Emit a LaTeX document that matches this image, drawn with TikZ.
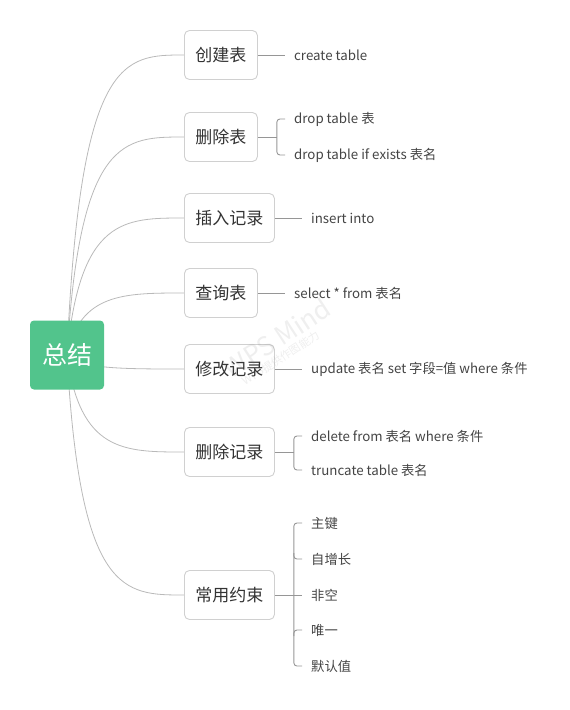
\documentclass[tikz,border=0pt]{standalone}
\usepackage{fontspec}
\setmainfont{Noto Sans CJK SC}
\usetikzlibrary{backgrounds}
\definecolor{rootgreen}{RGB}{82,196,140}
\definecolor{edgegray}{RGB}{185,185,185}
\definecolor{boxgray}{RGB}{208,208,208}
\definecolor{txt}{RGB}{51,51,51}
\definecolor{leaftxt}{RGB}{68,68,68}
\definecolor{linkgray}{RGB}{150,150,150}
\definecolor{wmark}{RGB}{120,120,120}
\begin{document}
\begin{tikzpicture}[x=1pt,y=-1pt,
 rootbox/.style={fill=rootgreen, rounded corners=4pt, minimum width=74pt, minimum height=69pt, text=white, font=\fontsize{25}{30}\selectfont, inner sep=0pt},
 topic/.style={draw=boxgray, line width=0.9pt, fill=white, rounded corners=5pt, minimum height=49pt, inner xsep=11pt, inner ysep=0pt, font=\fontsize{17}{20}\selectfont, text=txt, anchor=west},
 leaf/.style={anchor=west, inner sep=0pt, font=\fontsize{13.3}{16}\selectfont, text=leaftxt},
 curve/.style={draw=edgegray, line width=0.8pt},
 link/.style={draw=linkgray, line width=0.9pt},
 wm/.style={text=wmark, text opacity=0.12, rotate=33, inner sep=0pt}]
\useasboundingbox (0,0) rectangle (570,710);

% root
\node[rootbox] (root) at (67,355) {总结};

% topics
\node[topic] (t1) at (184,55) {创建表};
\node[topic] (t2) at (184,137) {删除表};
\node[topic] (t3) at (184,218) {插入记录};
\node[topic] (t4) at (184,293) {查询表};
\node[topic] (t5) at (184,369) {修改记录};
\node[topic] (t6) at (184,452) {删除记录};
\node[topic] (t7) at (184,595) {常用约束};

% curves
\begin{scope}[on background layer]
\foreach \t in {t1,t2,t3,t4,t5,t6,t7}{
  \draw[curve] (root.center) .. controls ([xshift=13pt]root.center |- \t.west) and ([xshift=-60pt]\t.west) .. (\t.west);
}
\end{scope}

% leaves
\node[leaf] (l1) at (294,55) {create table};
\node[leaf] (l2a) at (294,119) {drop table 表};
\node[leaf] (l2b) at (294,155) {drop table if exists 表名};
\node[leaf] (l3) at (311,218) {insert into};
\node[leaf] (l4) at (294,293) {select * from 表名};
\node[leaf] (l5) at (311,369) {update 表名 set 字段=值 where 条件};
\node[leaf] (l6a) at (311,436) {delete from 表名 where 条件};
\node[leaf] (l6b) at (311,470) {truncate table 表名};
\node[leaf] (l7a) at (311,523) {主键};
\node[leaf] (l7b) at (311,559) {自增长};
\node[leaf] (l7c) at (311,595) {非空};
\node[leaf] (l7d) at (311,630) {唯一};
\node[leaf] (l7e) at (311,666) {默认值};

% single links
\draw[link] (t1.east) -- ([xshift=-9pt]l1.west);
\draw[link] (t3.east) -- ([xshift=-9pt]l3.west);
\draw[link] (t4.east) -- ([xshift=-9pt]l4.west);
\draw[link] (t5.east) -- ([xshift=-9pt]l5.west);

% brackets
\draw[link] (t2.east) -- ++(19,0) coordinate (j2);
\draw[link, rounded corners=3pt] ([xshift=-9pt]l2a.west) -| (j2) |- ([xshift=-9pt]l2b.west);

\draw[link] (t6.east) -- ++(19,0) coordinate (j6);
\draw[link, rounded corners=3pt] ([xshift=-9pt]l6a.west) -| (j6) |- ([xshift=-9pt]l6b.west);

\draw[link] (t7.east) -- ++(19,0) coordinate (j7);
\draw[link, rounded corners=3pt] ([xshift=-9pt]l7a.west) -| (j7) |- ([xshift=-9pt]l7e.west);
\draw[link, rounded corners=3pt] ([xshift=-9pt]l7b.west) -| ([yshift=6pt]j7 |- l7b.west);
\draw[link, rounded corners=3pt] ([xshift=-9pt]l7d.west) -| ([yshift=-6pt]j7 |- l7d.west);
\draw[link] (j7) -- ([xshift=-9pt]l7c.west);

% watermark
\node[wm, font=\fontsize{26}{30}\selectfont] (wm1) at (277,338) {WPS Mind};
\node[wm, font=\fontsize{11}{13}\selectfont] (wm2) at (281,358) {WPS提供作图能力};
\end{tikzpicture}
\end{document}
